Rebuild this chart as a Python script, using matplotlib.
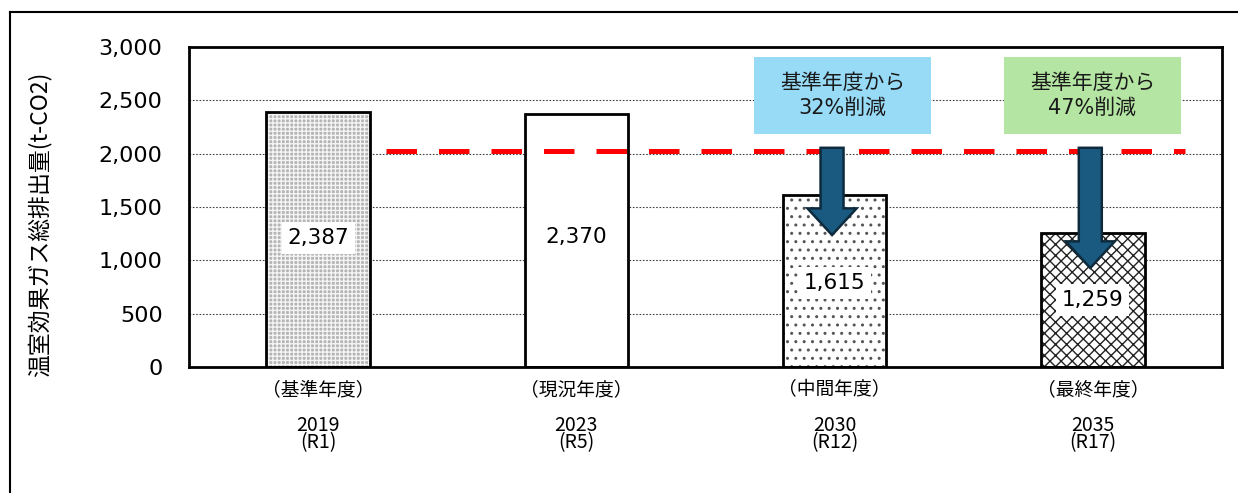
import matplotlib.pyplot as plt
import matplotlib.patches as mpatches
from matplotlib.lines import Line2D
import numpy as np

plt.rcParams['font.family'] = ['Noto Sans CJK JP', 'DejaVu Sans']
plt.rcParams['hatch.linewidth'] = 1.0
WIDE = ['DejaVu Sans', 'Noto Sans CJK JP']   # wide digits, CJK falls back

# Data
periods = ["（基準年度）", "（現況年度）", "（中間年度）", "（最終年度）"]
years = ["2019", "2023", "2030", "2035"]
reiwa = ["(R1)", "(R5)", "(R12)", "(R17)"]
emissions = [2387, 2370, 1615, 1259]
value_labels = ["2,387", "2,370", "1,615", "1,259"]
target_line = 2025
reduction_notes = ["基準年度から\n32%削減", "基準年度から\n47%削減"]
note_colors = ["#97DBF7", "#B4E5A2"]

W, H = 1238, 493
fig = plt.figure(figsize=(W / 100, H / 100), dpi=100)
ax = fig.add_axes([189 / W, (H - 367) / H, 1033 / W, 320 / H])

x = np.arange(len(emissions))
ax.set_xlim(-0.5, 3.5)
ax.set_ylim(0, 3000)

# grid
for g in range(500, 3000, 500):
    ax.axhline(g, color="#404040", linestyle=(0, (1.5, 1.5)), linewidth=0.8, zorder=0)

# bars: fill/hatch layer first, then black outline
fills = ["#B4B4B4", "white", "white", "white"]
hatches = ["++++", None, "..", "xxx"]
hatch_cols = ["#F4F4F4", "white", "#555555", "#222222"]
bw = 0.4
for i in range(len(emissions)):
    ax.bar(x[i], emissions[i], width=bw, color=fills[i], hatch=hatches[i],
           edgecolor=hatch_cols[i], linewidth=0, zorder=2)
ax.bar(x, emissions, width=bw, color="none", edgecolor="black", linewidth=2, zorder=3)

# value labels
label_y = [1210, 1219, 787, 628]
for i, v in enumerate(value_labels):
    ax.text(x[i], label_y[i], v, ha="center", va="center", fontsize=15.5, family=WIDE,
            zorder=5, bbox=dict(facecolor="white", edgecolor="none", pad=4))

# red target line
ax.plot([0.263, 3.357], [target_line, target_line], color="#FF0000", linewidth=3.6,
        linestyle=(0, (6.1, 4.4)), zorder=4, solid_capstyle="butt", dash_capstyle="butt")

# arrows
arrow_tips = [1237, 928]
for j, i in enumerate([2, 3]):
    xc = x[i] - 0.01
    top = 2055
    arr = mpatches.FancyArrow(xc, top, 0, arrow_tips[j] - top, width=0.089,
                              head_width=0.19, head_length=250,
                              length_includes_head=True, facecolor="#1A5A80",
                              edgecolor="#0E2B3D", linewidth=1.8, zorder=6)
    ax.add_patch(arr)

# reduction boxes
box_x = [1.688, 2.656]
for j, note in enumerate(reduction_notes):
    rect = mpatches.Rectangle((box_x[j], 2184), 0.685, 722, facecolor=note_colors[j],
                              edgecolor="none", zorder=6)
    ax.add_patch(rect)
    ax.text(box_x[j] + 0.3425, 2545, note, ha="center", va="center", fontsize=15,
            family=WIDE, linespacing=1.3, zorder=7, color="#1A1A1A")

# axes styling
for s in ax.spines.values():
    s.set_linewidth(2)
    s.set_color("black")
ax.set_yticks(range(0, 3001, 500))
ax.set_yticklabels([f"{v:,}" for v in range(0, 3001, 500)], fontsize=16, family=WIDE)
ax.tick_params(axis="y", length=0, pad=19)
ax.set_xticks([])

for i in range(len(periods)):
    ax.text(x[i], -216, periods[i], ha="center", va="center", fontsize=13.5,
            clip_on=False)
    ax.text(x[i], -630, years[i] + "\n" + reiwa[i], ha="center", va="center",
            fontsize=14, linespacing=0.8, clip_on=False)

fig.text(40 / W, 1 - 224 / H, "温室効果ガス総排出量(t-CO2)", rotation=90,
         ha="center", va="center", fontsize=16.5)

# outer frame (left and top edges)
fig.add_artist(Line2D([10 / W, 10 / W], [0, 1 - 12 / H], color="black", linewidth=1.5,
                      transform=fig.transFigure))
fig.add_artist(Line2D([10 / W, 1], [1 - 12 / H, 1 - 12 / H], color="black", linewidth=1.5,
                      transform=fig.transFigure))

fig.savefig("out.png", dpi=100)
